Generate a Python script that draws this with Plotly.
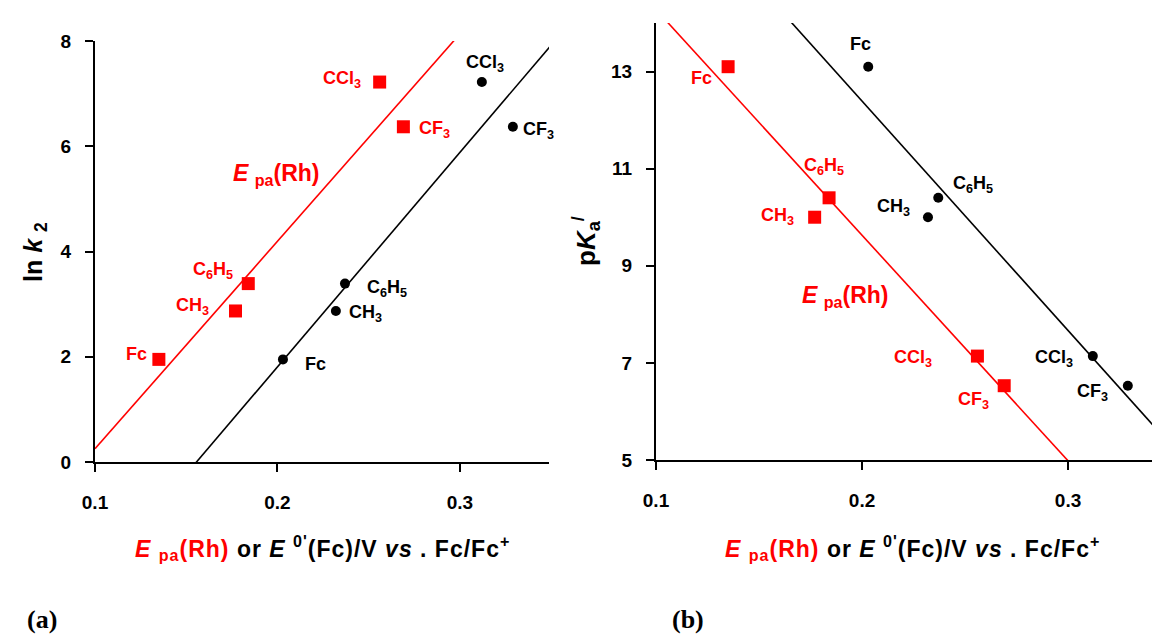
import numpy as np
import plotly.graph_objects as go

# ---------------- data ----------------
substituents = ["Fc", "CH<sub>3</sub>", "C<sub>6</sub>H<sub>5</sub>", "CCl<sub>3</sub>", "CF<sub>3</sub>"]
epa_rh = [0.135, 0.177, 0.184, 0.256, 0.269]      # E_pa(Rh) / V
e0_fc = [0.203, 0.232, 0.237, 0.312, 0.329]       # E0'(Fc) / V
ln_k2 = [1.95, 2.87, 3.39, 7.22, 6.37]
pka = [13.1, 10.0, 10.4, 7.14, 6.53]

# label positions (data coords) for each panel
lab_a_red_x = [0.1297, 0.1633, 0.1765, 0.247, 0.2766]
lab_a_red_y = [2.05, 2.96, 3.63, 7.26, 6.32]
lab_a_blk_x = [0.214, 0.238, 0.2481, 0.3136, 0.3336]
lab_a_blk_y = [1.86, 2.82, 3.30, 7.57, 6.29]
lab_b_red_x = [0.1222, 0.1681, 0.1813, 0.2349, 0.2539]
lab_b_red_y = [12.86, 10.01, 11.04, 7.09, 6.22]
lab_b_blk_x = [0.1993, 0.2153, 0.2539, 0.2931, 0.3117]
lab_b_blk_y = [13.56, 10.19, 10.67, 7.09, 6.39]

RED = "#FF0000"
FONT = "Arial, Liberation Sans, sans-serif"

fig = go.Figure()

xline = np.array([0.1, 0.35])

def add_panel(xr, xb, y, xa, ya):
    for xs, col in ((xr, RED), (xb, "black")):
        m, c = np.polyfit(xs, y, 1)
        fig.add_trace(go.Scatter(x=xline, y=m * xline + c, mode="lines",
                                 line=dict(color=col, width=1.6),
                                 xaxis=xa, yaxis=ya, showlegend=False, hoverinfo="skip"))
    fig.add_trace(go.Scatter(x=xr, y=y, mode="markers",
                             marker=dict(symbol="square", size=13, color=RED),
                             xaxis=xa, yaxis=ya, showlegend=False, cliponaxis=False))
    fig.add_trace(go.Scatter(x=xb, y=y, mode="markers",
                             marker=dict(symbol="circle", size=10, color="black"),
                             xaxis=xa, yaxis=ya, showlegend=False, cliponaxis=False))

add_panel(epa_rh, e0_fc, ln_k2, "x", "y")
add_panel(epa_rh, e0_fc, pka, "x2", "y2")

ann = []
def labels(xs, ys, col, xref, yref, anchors):
    for t, x, y, a in zip(substituents, xs, ys, anchors):
        ann.append(dict(x=x, y=y, xref=xref, yref=yref, text="<b>" + t + "</b>", showarrow=False,
                        xanchor=a, yanchor="middle",
                        font=dict(family=FONT, size=18, color=col)))

labels(lab_a_red_x, lab_a_red_y, RED, "x", "y", ["right", "right", "right", "right", "left"])
labels(lab_a_blk_x, lab_a_blk_y, "black", "x", "y", ["left", "left", "left", "center", "left"])
labels(lab_b_red_x, lab_b_red_y, RED, "x2", "y2", ["center", "right", "center", "right", "center"])
labels(lab_b_blk_x, lab_b_blk_y, "black", "x2", "y2", ["center", "center", "center", "center", "center"])

epa_txt = "<b><i>E</i> <sub>pa</sub>(Rh)</b>"
ann.append(dict(x=0.1993, y=5.47, xref="x", yref="y", text=epa_txt, showarrow=False,
                font=dict(family=FONT, size=23, color=RED)))
ann.append(dict(x=0.192, y=8.37, xref="x2", yref="y2", text=epa_txt, showarrow=False,
                font=dict(family=FONT, size=23, color=RED)))

xtitle = ("<span style='letter-spacing:1px'><b><span style='color:#FF0000'><i>E</i> <sub>pa</sub>(Rh)</span> or "
          "<i>E</i> <sup>0'</sup>(Fc)/V <i>vs</i> . Fc/Fc<sup>+</sup></b></span>")
for xc in (314 / 1160, 904 / 1160):
    ann.append(dict(x=xc, y=1 - 540 / 635, xref="paper", yref="paper", text=xtitle,
                    showarrow=False, xanchor="center", yanchor="middle",
                    font=dict(family=FONT, size=23, color="black")))

ann.append(dict(x=27 / 1160, y=1 - 244 / 635, xref="paper", yref="paper",
                text="<b>ln <i>k</i> <sub>2</sub></b>", textangle=-90, showarrow=False,
                xanchor="center", yanchor="middle",
                font=dict(family=FONT, size=25, color="black")))
ann.append(dict(x=578 / 1160, y=1 - 233 / 635, xref="paper", yref="paper",
                text="<b>p<i>K</i><sub>a</sub><sup>/</sup></b>", textangle=-90, showarrow=False,
                xanchor="center", yanchor="middle",
                font=dict(family=FONT, size=26, color="black")))

for txt, xc in (("(a)", 34), ("(b)", 680)):
    ann.append(dict(x=xc / 1160, y=1 - 611 / 635, xref="paper", yref="paper",
                    text="<b>" + txt + "</b>", showarrow=False,
                    xanchor="center", yanchor="middle",
                    font=dict(family="Liberation Serif, Times New Roman, serif", size=26, color="black")))

axis_common = dict(showline=True, linecolor="black", linewidth=2, ticks="outside",
                   ticklen=8, tickwidth=2, tickcolor="black", showgrid=False, zeroline=False,
                   tickfont=dict(family=FONT, size=19, color="black", weight="bold"))

fig.update_layout(
    width=1160, height=635, margin=dict(l=0, r=0, t=0, b=0, autoexpand=False),
    plot_bgcolor="white", paper_bgcolor="white",
    xaxis=dict(domain=[87 / 1160, 541 / 1160], range=[0.1, 0.3488], tickvals=[0.1, 0.2, 0.3],
               ticktext=["0.1", "0.2", "0.3"], anchor="y", ticklabelstandoff=14, **axis_common),
    yaxis=dict(domain=[1 - 454 / 635, 1 - 33 / 635], range=[0, 8], tickvals=[0, 2, 4, 6, 8],
               anchor="x", ticklabelstandoff=10, **axis_common),
    xaxis2=dict(domain=[648 / 1160, 1.0], range=[0.1, 0.3485], tickvals=[0.1, 0.2, 0.3],
                ticktext=["0.1", "0.2", "0.3"], anchor="y2", ticklabelstandoff=14, **axis_common),
    yaxis2=dict(domain=[1 - 452 / 635, 1 - 15 / 635], range=[5, 14], tickvals=[5, 7, 9, 11, 13],
                anchor="x2", ticklabelstandoff=10, **axis_common),
    annotations=ann,
)

fig.write_html("out.html")
